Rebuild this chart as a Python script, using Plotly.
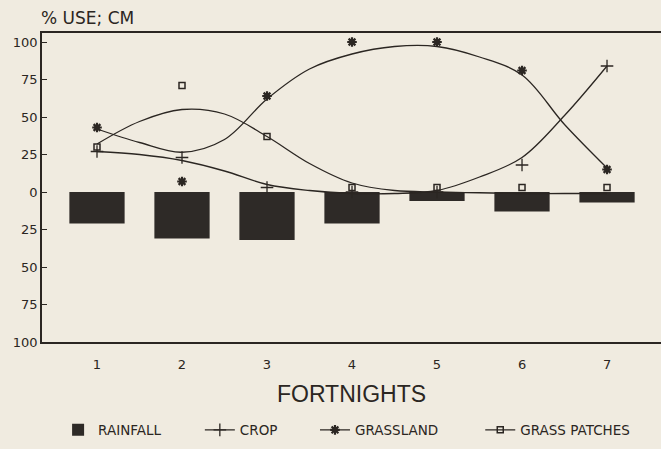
import plotly.graph_objects as go

# ---- data ----
fortnights = [1, 2, 3, 4, 5, 6, 7]
tick_labels = ["1", "2", "3", "4", "5", "6", "7"]
rainfall_cm = [21, 31, 32, 21, 6, 13, 7]          # drawn downward
crop_pts = [27, 23, 3, 0, 0, 18, 84]
grassland_pts = [43, 7, 64, 100, 100, 81, 15]
patches_pts = [30, 71, 37, 3, 3, 3, 3]

# fitted curves read at half-fortnight steps
curve_x = [1, 1.5, 2, 2.5, 3, 3.5, 4, 4.5, 5, 5.5, 6, 6.5, 7]
crop_curve = [27, 25, 21, 14, 5, 1, -1, -1, 1, 10, 23, 51, 84]
grassland_curve = [42, 33, 26.5, 35, 62, 82, 92, 97, 97, 90, 78, 45, 16]
patches_curve = [32, 47, 55, 52, 37, 19, 6, 1, 0, -0.5, -1, -1, -1]

y_tickvals = [100, 75, 50, 25, 0, -25, -50, -75, -100]
y_ticktext = ["100", "75", "50", "25", "0", "25", "50", "75", "100"]

INK = "#2b2622"
PAPER = "#f0ebe0"
WIDE = "DejaVu Sans, Verdana, sans-serif"
PLAIN = "Liberation Sans, Arial, sans-serif"

legend_names = ["legend", "legend2", "legend3", "legend4"]
legend_x = [0.026, 0.255, 0.441, 0.708]

fig = go.Figure()

fig.add_trace(go.Bar(
    x=fortnights, y=[-v for v in rainfall_cm], width=0.65,
    marker=dict(color="#2e2a27", line=dict(width=0)),
    name="RAINFALL", showlegend=True, legend="legend",
))

series = [
    ("CROP", crop_pts, crop_curve, dict(symbol="cross-thin", size=9, line=dict(width=1.3, color=INK))),
    ("GRASSLAND", grassland_pts, grassland_curve, dict(symbol="asterisk", size=8, line=dict(width=2.2, color=INK))),
    ("GRASS PATCHES", patches_pts, patches_curve, dict(symbol="square-open", size=6, line=dict(width=1.5, color=INK), color=INK)),
]

for i, (name, pts, curve, mk) in enumerate(series):
    fig.add_trace(go.Scatter(
        x=curve_x, y=curve, mode="lines", line=dict(color=INK, width=1.3, shape="spline", smoothing=1.0),
        showlegend=False, hoverinfo="skip", legendgroup=name,
    ))
    fig.add_trace(go.Scatter(
        x=fortnights, y=pts, mode="markers", marker=mk, showlegend=False, legendgroup=name,
    ))
    fig.add_trace(go.Scatter(
        x=[None], y=[None], mode="lines+markers", marker=mk, line=dict(color=INK, width=1.3),
        name=name, legendgroup=name, legend=legend_names[i + 1],
    ))

legend_style = dict(
    orientation="h", xanchor="left", y=-0.285, yanchor="middle",
    font=dict(size=13.5, color=INK, family=WIDE), bgcolor="rgba(0,0,0,0)",
)
layout_legends = {nm: dict(x=lx, **legend_style) for nm, lx in zip(legend_names, legend_x)}

fig.update_layout(
    width=661, height=449,
    margin=dict(l=42, r=0, t=33, b=107, autoexpand=False),
    paper_bgcolor=PAPER, plot_bgcolor=PAPER,
    font=dict(family=WIDE, color=INK),
    annotations=[dict(
        text="% USE; CM", xref="paper", yref="paper", x=-0.005, y=1.05,
        xanchor="left", yanchor="middle", showarrow=False, font=dict(size=17, color=INK, family=WIDE),
    )],
    **layout_legends,
)

fig.update_xaxes(
    range=[0.353, 7.635], tickvals=fortnights, ticktext=tick_labels,
    showgrid=False, zeroline=False, showline=True, mirror=True,
    linecolor=INK, linewidth=1.5, ticks="", ticklabelstandoff=10,
    tickfont=dict(size=13, color=INK, family=WIDE),
    title=dict(text="FORTNIGHTS", font=dict(size=23, color=INK, family=PLAIN), standoff=15),
)
fig.update_yaxes(
    range=[-100, 106], tickvals=y_tickvals, ticktext=y_ticktext,
    showgrid=False, zeroline=False, showline=True, mirror=False,
    linecolor=INK, linewidth=1.5, ticks="inside", ticklen=5, tickcolor=INK,
    tickfont=dict(size=13, color=INK, family=WIDE),
)

fig.write_html(
    "out.html",
    config={"displayModeBar": False},
    post_script="document.body.style.margin='0';document.body.style.background='%s';" % PAPER,
)
